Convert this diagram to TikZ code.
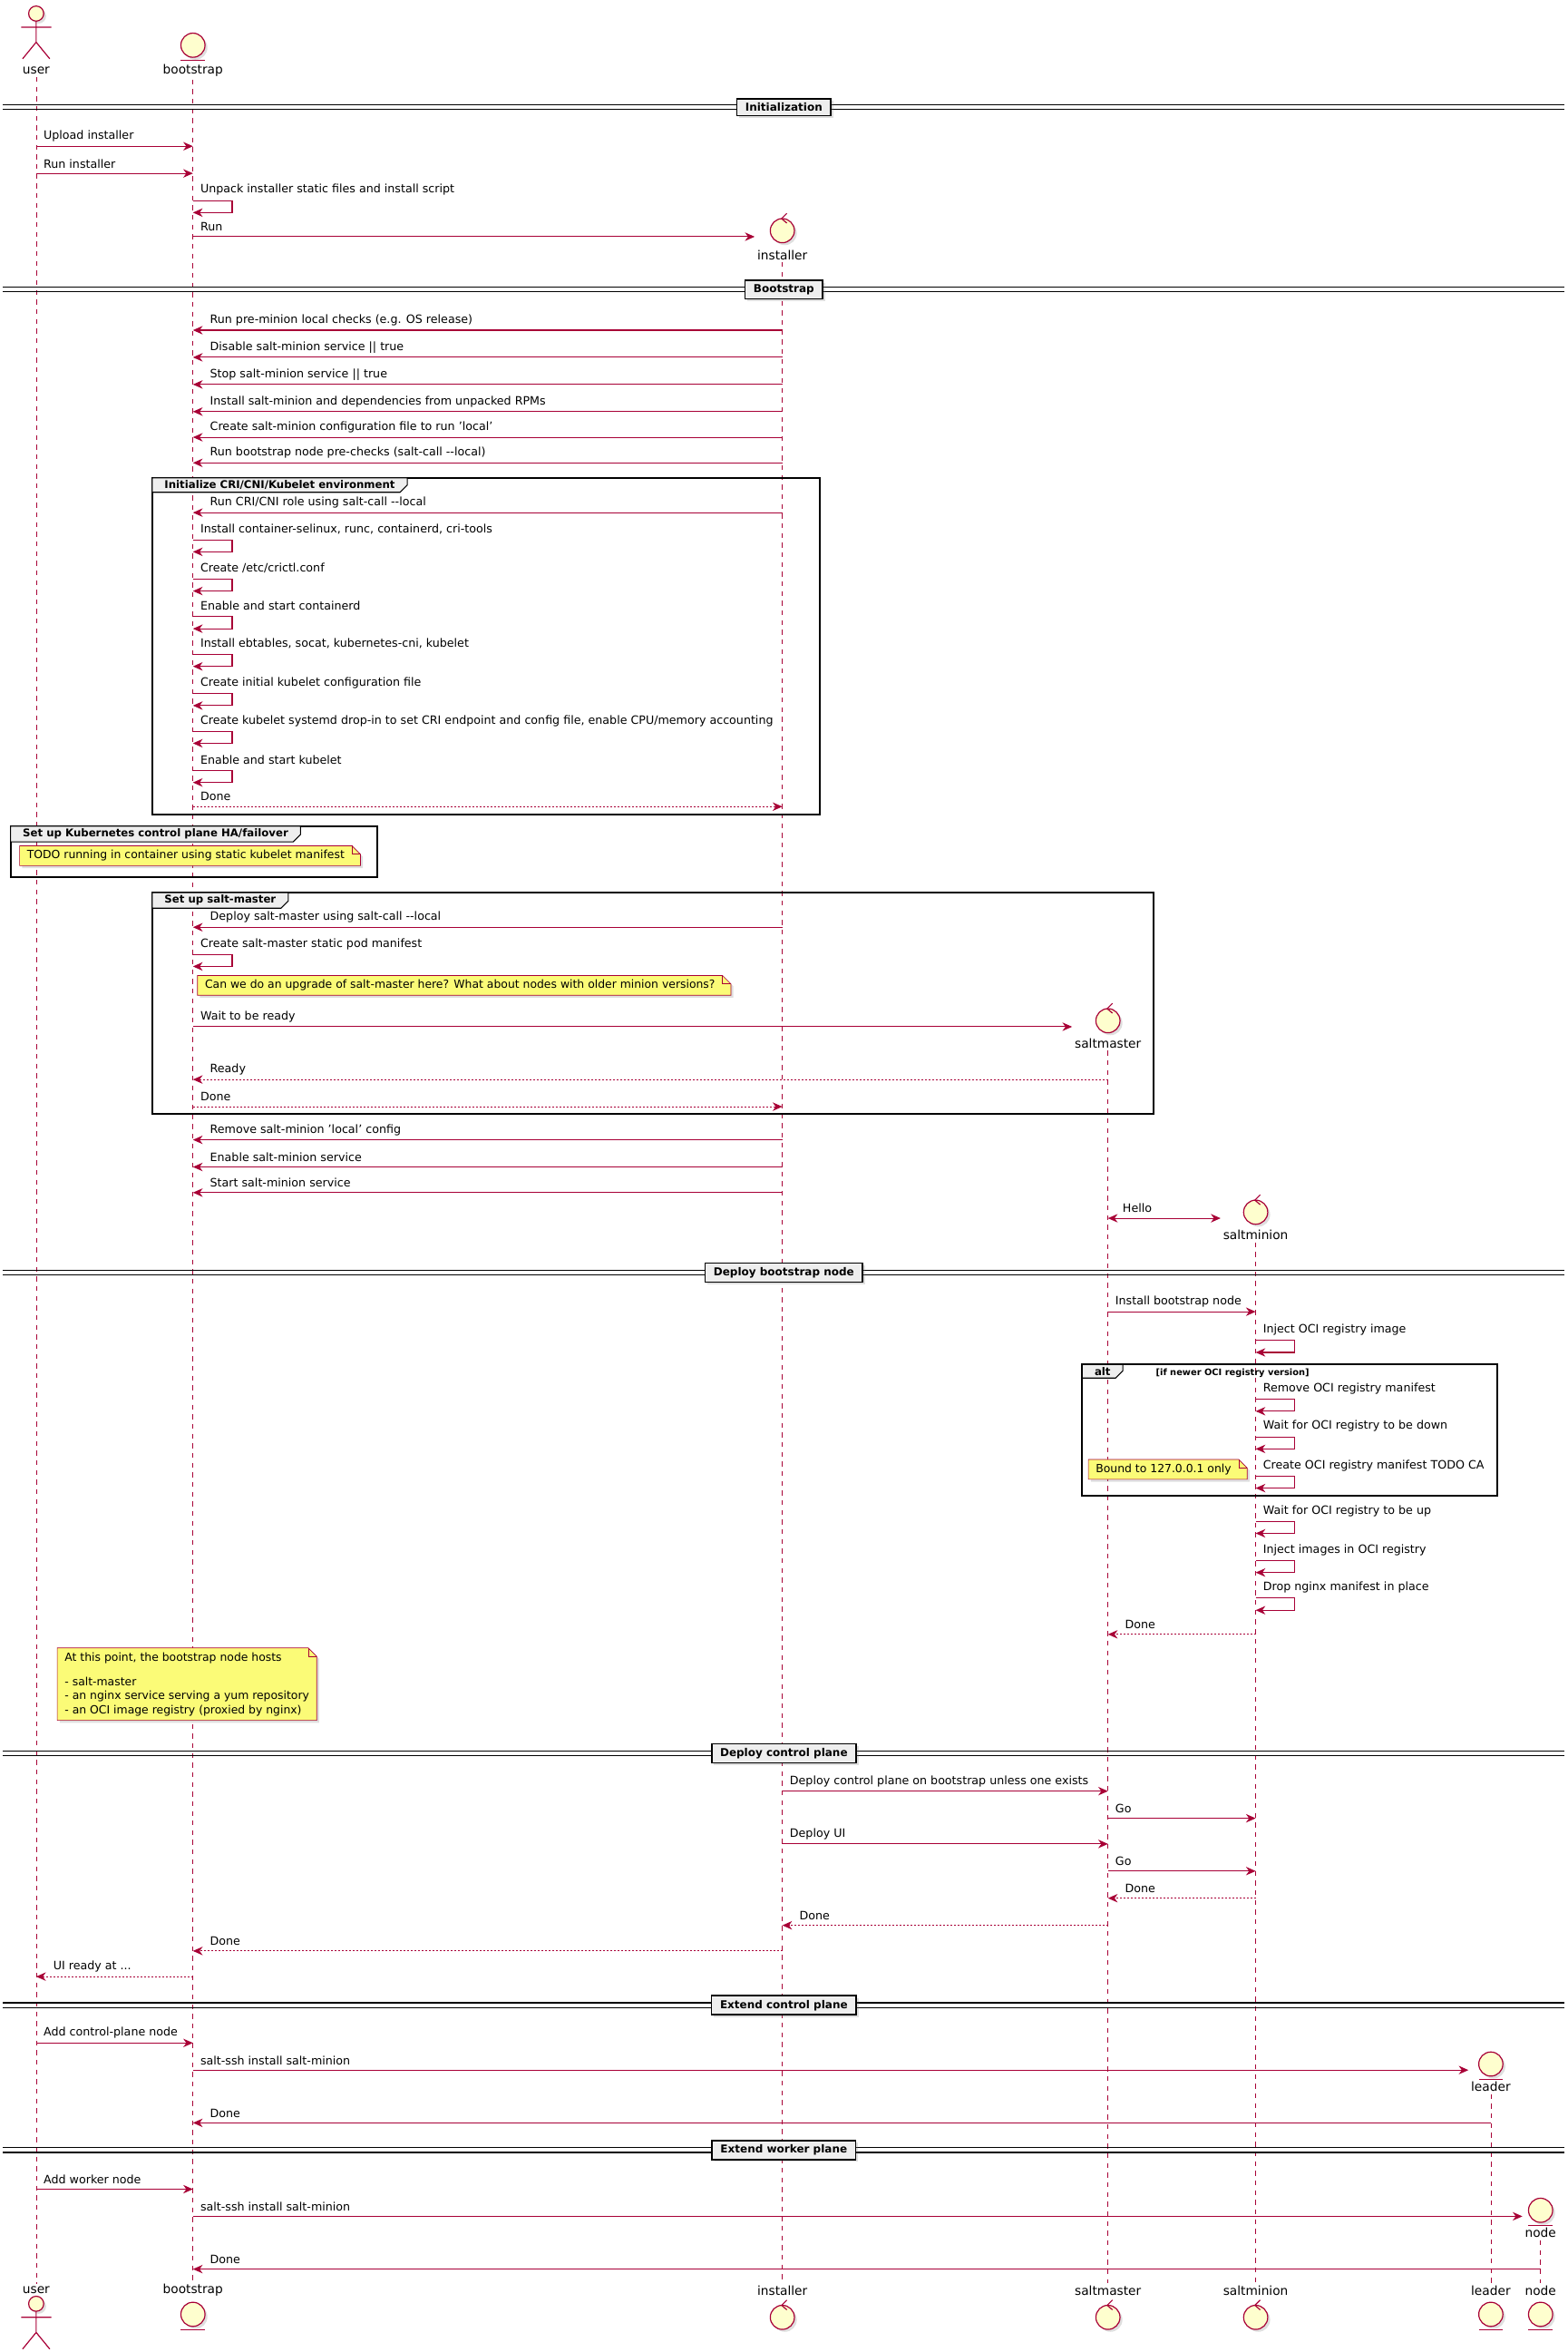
\documentclass[tikz,border=0pt]{standalone}
\usepackage{fontspec}
\setmainfont{DejaVu Sans}
\usetikzlibrary{arrows.meta,positioning,shadows}
\definecolor{umlred}{HTML}{A80036}
\definecolor{umlfill}{HTML}{FEFECE}
\definecolor{notefill}{HTML}{FBFB77}
\definecolor{grpgray}{HTML}{EEEEEE}
\pgfdeclarelayer{back}
\pgfdeclarelayer{background}
\pgfsetlayers{back,background,main}

\tikzset{
  shade/.style = {drop shadow={opacity=0.25, shadow xshift=2pt, shadow yshift=-2pt}},
  part/.style = {draw=umlred, fill=umlfill, line width=0.9pt, shade},
  plbl/.style = {font=\fontsize{10.3}{12}\selectfont, inner sep=0pt},
  life/.style = {draw=umlred, line width=0.5pt, dash pattern=on 4pt off 4pt},
  msg/.style = {draw=umlred, line width=0.8pt, -{Stealth[length=8pt,width=7pt,inset=2.5pt]}},
  both/.style = {{Stealth[length=8pt,width=7pt,inset=2.5pt]}-{Stealth[length=8pt,width=7pt,inset=2.5pt]}},
  ret/.style = {dash pattern=on 1.5pt off 1.5pt},
  lbl/.style = {font=\fontsize{9.5}{11}\selectfont, inner sep=0pt, anchor=west},
  divbox/.style = {draw=black, line width=1.2pt, fill=grpgray, shade,
    font=\bfseries\fontsize{9}{10}\selectfont, inner xsep=7pt, inner ysep=3.5pt},
  grpframe/.style = {draw=black, line width=1.5pt},
  grptitle/.style = {font=\bfseries\fontsize{8.8}{10}\selectfont, inner xsep=10pt, inner ysep=2pt},
  notetext/.style = {font=\fontsize{9.3}{11.5}\selectfont, inner xsep=6pt, inner ysep=3.5pt, align=left},
  pics/actorfig/.style = {code={
    \draw[part] (0,0) circle[radius=5];
    \draw[umlred, line width=0.9pt] (0,5) -- (0,19) (-10,9) -- (10,9) (0,19) -- (-9,30) (0,19) -- (9,30);}},
  pics/entity/.style = {code={
    \draw[part] (0,0) circle[radius=8];
    \draw[umlred, line width=0.9pt] (-8,10) -- (8,10);}},
  pics/control/.style = {code={
    \draw[part] (0,0) circle[radius=8];
    \draw[umlred, line width=0.9pt] (3,-11.5) -- (-0.5,-8) -- (3,-5);}},
}

% message helpers: arrows between lifelines, self calls, dividers, groups, notes
\newcommand\msgR[5][]{\draw[msg,#1] (#2|-0,#4) -- (#3|-0,#4);
  \node[lbl] at ([xshift=6pt]#2|-0,#4-6.5) {#5};}
\newcommand\msgL[5][]{\draw[msg,#1] (#2|-0,#4) -- (#3|-0,#4);
  \node[lbl] at ([xshift=14pt]#3|-0,#4-6.5) {#5};}
\newcommand\selfmsg[3]{\draw[msg] (#1|-0,#2+7) -- ++(26,0) -- ++(0,8) -- ++(-26,0);
  \node[lbl] at ([xshift=6pt]#1|-0,#2) {#3};}
\newcommand\divider[3]{\draw[line width=0.9pt] (2,#1-1.6) -- (1038,#1-1.6) (2,#1+1.6) -- (1038,#1+1.6);
  \node[divbox] (#2) at (520,#1) {#3};}
\newcommand\grp[6]{\draw[grpframe] (#2,#3) rectangle (#4,#5);
  \node[grptitle,anchor=north west] (#1) at (#2,#3) {#6};
  \draw[line width=0.8pt, fill=grpgray] (#1.north west) -- (#1.north east) -- ([yshift=6pt]#1.south east)
    -- ([xshift=-6pt]#1.south east) -- (#1.south west) -- cycle;
  \node[grptitle,anchor=north west] at (#2,#3) {#6};}
\newcommand\notebox[3]{\node[notetext,anchor=north west] (#1) at (#2) {#3\hspace{7pt}};
  \begin{pgfonlayer}{background}
    \draw[draw=umlred, line width=0.5pt, fill=notefill, shade] (#1.north west) -- ([xshift=-7pt]#1.north east)
      -- ([yshift=-7pt]#1.north east) -- (#1.south east) -- (#1.south west) -- cycle;
    \draw[draw=umlred, line width=0.5pt] ([xshift=-7pt]#1.north east) |- ([yshift=-7pt]#1.north east);
  \end{pgfonlayer}}

\begin{document}
\begin{tikzpicture}[x=1.247pt, y=-1.247pt]
  \useasboundingbox (0,0) rectangle (1040,1560);

  % participants
  \pic at (24,9) {actorfig};
  \node[plbl] (userhead) at (24,47) {user};
  \pic at (128,30) {entity};
  \node[plbl] (boothead) at (128,47) {bootstrap};
  \pic at (519,153) {control};
  \node[plbl] (insthead) at (519,169) {installer};
  \pic at (735,677) {control};
  \node[plbl] (masterhead) at (735,692) {saltmaster};
  \pic at (833,804) {control};
  \node[plbl] (minionhead) at (833,819) {saltminion};
  \pic at (989,1369) {entity};
  \node[plbl] (leaderhead) at (989,1384) {leader};
  \pic at (1022,1466) {entity};
  \node[plbl] (nodehead) at (1022,1481) {node};

  \node[plbl] (userfoot) at (24,1519) {user};
  \node[plbl] (bootfoot) at (128,1519) {bootstrap};
  \node[plbl] (instfoot) at (519,1519) {installer};
  \node[plbl] (masterfoot) at (735,1519) {saltmaster};
  \node[plbl] (minionfoot) at (833,1519) {saltminion};
  \node[plbl] (leaderfoot) at (989,1519) {leader};
  \node[plbl] (nodefoot) at (1022,1519) {node};
  \pic at (24,1528) {actorfig};
  \pic at (128,1535) {entity};
  \pic at (519,1537) {control};
  \pic at (735,1537) {control};
  \pic at (833,1537) {control};
  \pic at (989,1535) {entity};
  \pic at (1022,1535) {entity};

  \begin{pgfonlayer}{back}
    \foreach \p in {user,boot,inst,master,minion,leader,node}
      \draw[life] ([yshift=-2pt]\p head.south) -- ([yshift=2pt]\p foot.north);
  \end{pgfonlayer}

  % Initialization
  \divider{71}{divinit}{Initialization}
  \msgR{userhead}{boothead}{97}{Upload installer}
  \msgR{userhead}{boothead}{115}{Run installer}
  \selfmsg{boothead}{126}{Unpack installer static files and install script}
  \draw[msg] (boothead|-0,157) -- ([xshift=-2pt]insthead.west|-0,157);
  \node[lbl] at ([xshift=6pt]boothead|-0,150.5) {Run};

  % Bootstrap
  \divider{192}{divboot}{Bootstrap}
  \msgL{insthead}{boothead}{219}{Run pre-minion local checks (e.g. OS release)}
  \msgL{insthead}{boothead}{237}{Disable salt-minion service || true}
  \msgL{insthead}{boothead}{255}{Stop salt-minion service || true}
  \msgL{insthead}{boothead}{273}{Install salt-minion and dependencies from unpacked RPMs}
  \msgL{insthead}{boothead}{290}{Create salt-minion configuration file to run 'local'}
  \msgL{insthead}{boothead}{307}{Run bootstrap node pre-checks (salt-call -{}-local)}

  \grp{gcri}{101}{317}{544}{540}{Initialize CRI/CNI/Kubelet environment}
  \msgL{insthead}{boothead}{340}{Run CRI/CNI role using salt-call -{}-local}
  \selfmsg{boothead}{351}{Install container-selinux, runc, containerd, cri-tools}
  \selfmsg{boothead}{377}{Create /etc/crictl.conf}
  \selfmsg{boothead}{402}{Enable and start containerd}
  \selfmsg{boothead}{427}{Install ebtables, socat, kubernetes-cni, kubelet}
  \selfmsg{boothead}{453}{Create initial kubelet configuration file}
  \selfmsg{boothead}{478}{Create kubelet systemd drop-in to set CRI endpoint and config file, enable CPU/memory accounting}
  \selfmsg{boothead}{504}{Enable and start kubelet}
  \msgR[ret]{boothead}{insthead}{535}{Done}

  \grp{gha}{7}{548}{250}{582}{Set up Kubernetes control plane HA/failover}
  \notebox{ntodo}{13,561}{TODO running in container using static kubelet manifest}

  \grp{gmaster}{101}{592}{765}{739}{Set up salt-master}
  \msgL{insthead}{boothead}{615}{Deploy salt-master using salt-call -{}-local}
  \selfmsg{boothead}{626}{Create salt-master static pod manifest}
  \notebox{nupgrade}{131,647}{Can we do an upgrade of salt-master here? What about nodes with older minion versions?}
  \draw[msg] (boothead|-0,681) -- ([xshift=-2pt]masterhead.west|-0,681);
  \node[lbl] at ([xshift=6pt]boothead|-0,674.5) {Wait to be ready};
  \msgL[ret]{masterhead}{boothead}{716}{Ready}
  \msgR[ret]{boothead}{insthead}{734}{Done}
  \msgL{insthead}{boothead}{756}{Remove salt-minion 'local' config}
  \msgL{insthead}{boothead}{774}{Enable salt-minion service}
  \msgL{insthead}{boothead}{791}{Start salt-minion service}
  \draw[msg,both] (masterhead|-0,808) -- ([xshift=-2pt]minionhead.west|-0,808);
  \node[lbl] at ([xshift=12pt]masterhead|-0,801.5) {Hello};

  % Deploy bootstrap node
  \divider{844}{divnode}{Deploy bootstrap node}
  \msgR{masterhead}{minionhead}{870}{Install bootstrap node}
  \selfmsg{minionhead}{882}{Inject OCI registry image}
  \grp{galt}{718}{905}{993}{992}{alt}
  \node[font=\bfseries\fontsize{7.4}{9}\selectfont, anchor=west] at (764,910.5) {[if newer OCI registry version]};
  \selfmsg{minionhead}{921}{Remove OCI registry manifest}
  \selfmsg{minionhead}{946}{Wait for OCI registry to be down}
  \selfmsg{minionhead}{972}{Create OCI registry manifest TODO CA}
  \notebox{nbound}{722,968}{Bound to 127.0.0.1 only}
  \selfmsg{minionhead}{1002}{Wait for OCI registry to be up}
  \selfmsg{minionhead}{1028}{Inject images in OCI registry}
  \selfmsg{minionhead}{1053}{Drop nginx manifest in place}
  \msgL[ret]{minionhead}{masterhead}{1084}{Done}
  \notebox{nhosts}{38,1093}{At this point, the bootstrap node hosts\\[9pt]- salt-master\\- an nginx service serving a yum repository\\- an OCI image registry (proxied by nginx)}

  % Deploy control plane
  \divider{1163}{divcp}{Deploy control plane}
  \msgR{insthead}{masterhead}{1188}{Deploy control plane on bootstrap unless one exists}
  \msgR{masterhead}{minionhead}{1206}{Go}
  \msgR{insthead}{masterhead}{1223}{Deploy UI}
  \msgR{masterhead}{minionhead}{1241}{Go}
  \msgL[ret]{minionhead}{masterhead}{1259}{Done}
  \msgL[ret]{masterhead}{insthead}{1277}{Done}
  \msgL[ret]{insthead}{boothead}{1294}{Done}
  \msgL[ret]{boothead}{userhead}{1311}{UI ready at ...}

  % Extend control plane
  \divider{1330}{divext}{Extend control plane}
  \msgR{userhead}{boothead}{1355}{Add control-plane node}
  \draw[msg] (boothead|-0,1373) -- ([xshift=-2pt]leaderhead.west|-0,1373);
  \node[lbl] at ([xshift=6pt]boothead|-0,1366.5) {salt-ssh install salt-minion};
  \msgL{leaderhead}{boothead}{1408}{Done}

  % Extend worker plane
  \divider{1426}{divwork}{Extend worker plane}
  \msgR{userhead}{boothead}{1452}{Add worker node}
  \draw[msg] (boothead|-0,1470) -- ([xshift=-2pt]nodehead.west|-0,1470);
  \node[lbl] at ([xshift=6pt]boothead|-0,1463.5) {salt-ssh install salt-minion};
  \msgL{nodehead}{boothead}{1505}{Done}
\end{tikzpicture}
\end{document}
